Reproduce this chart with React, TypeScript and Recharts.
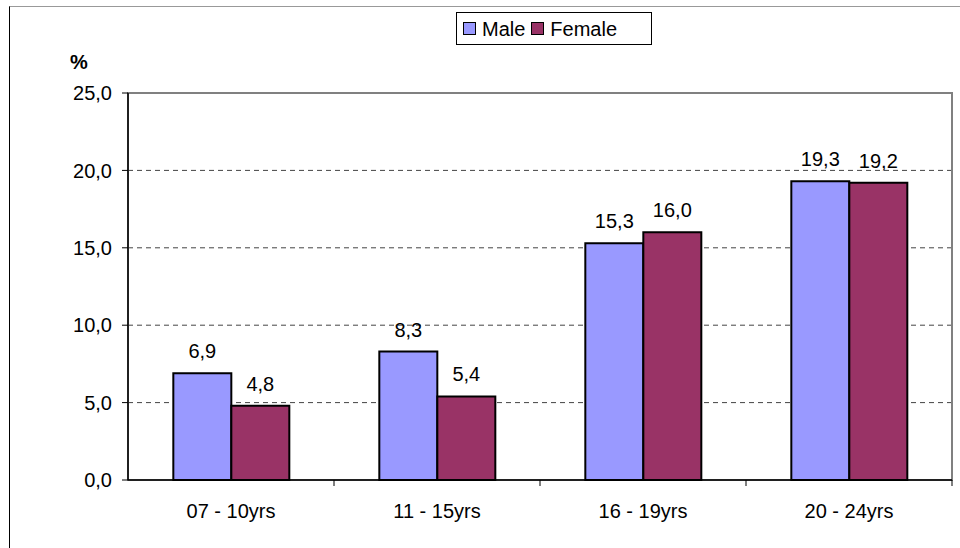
import React from "react";
import {
  BarChart, Bar, XAxis, YAxis, CartesianGrid, LabelList, ReferenceArea,
} from "recharts";

const AGE_GROUPS = ["07 - 10yrs", "11 - 15yrs", "16 - 19yrs", "20 - 24yrs"];
const MALE = [6.9, 8.3, 15.3, 19.3];
const FEMALE = [4.8, 5.4, 16.0, 19.2];
const Y_TICKS = [0, 5, 10, 15, 20, 25];

const MALE_COLOR = "#9999FF";
const FEMALE_COLOR = "#993366";
const FONT = "'Liberation Sans', Arial, sans-serif";

const W = 960;
const H = 548;
const PLOT_LEFT = 128;
const PLOT_RIGHT = 952;
const HALF_BAND = (PLOT_RIGHT - PLOT_LEFT) / AGE_GROUPS.length / 2;

const data = AGE_GROUPS.map((name, i) => ({ name, male: MALE[i], female: FEMALE[i] }));

const fmt = (v: number) => v.toFixed(1).replace(".", ",");

function CategoryTick(props: any) {
  const { x, y, payload } = props;
  return (
    <g>
      <line x1={x + HALF_BAND} x2={x + HALF_BAND} y1={y} y2={y + 6} stroke="#000" strokeWidth={1} />
      <text x={x} y={y + 38} textAnchor="middle" fontSize={20} fontFamily={FONT} fill="#000">
        {payload.value}
      </text>
    </g>
  );
}

function LegendBox() {
  const item = (color: string, label: string) => (
    <span style={{ display: "inline-flex", alignItems: "center", marginRight: 6 }}>
      <span
        style={{
          width: 11, height: 11, background: color, border: "1px solid #000",
          display: "inline-block", marginRight: 6,
        }}
      />
      {label}
    </span>
  );
  return (
    <div
      style={{
        position: "absolute", left: 456, top: 12, width: 188, height: 31,
        border: "1px solid #000", background: "#fff", fontFamily: FONT, fontSize: 20,
        display: "flex", alignItems: "center", paddingLeft: 6, boxSizing: "content-box",
        lineHeight: "20px",
      }}
    >
      {item(MALE_COLOR, "Male")}
      {item(FEMALE_COLOR, "Female")}
    </div>
  );
}

export default function App() {
  return (
    <div style={{ position: "absolute", left: 0, top: 0, width: W, height: H, overflow: "hidden", background: "#fff" }}>
      <div
        style={{
          position: "absolute", left: 9, top: 6, width: 1000, height: 600,
          borderLeft: "1px solid #000", borderTop: "1px solid #999",
        }}
      />
      <div
        style={{
          position: "absolute", left: 70, top: 50, fontFamily: FONT, fontSize: 20,
          fontWeight: "bold", lineHeight: "24px",
        }}
      >
        %
      </div>
      <LegendBox />
      <div style={{ position: "absolute", left: 0, top: 0 }}>
        <BarChart
          width={W}
          height={H}
          data={data}
          margin={{ top: 93, right: W - PLOT_RIGHT, left: 0, bottom: 8 }}
          barCategoryGap="22%"
          barGap={0}
        >
          <ReferenceArea y1={0} y2={25} fill="none" stroke="#808080" strokeWidth={2} ifOverflow="visible" />
          <CartesianGrid vertical={false} stroke="#444" strokeDasharray="5 4" />
          <XAxis
            dataKey="name"
            height={60}
            axisLine={{ stroke: "#000", strokeWidth: 1.5 }}
            tickLine={false}
            tickSize={0}
            tickMargin={0}
            tick={<CategoryTick />}
            interval={0}
          />
          <YAxis
            width={PLOT_LEFT}
            domain={[0, 25]}
            ticks={Y_TICKS}
            tickFormatter={fmt}
            axisLine={{ stroke: "#000", strokeWidth: 1.5 }}
            tickLine={{ stroke: "#000" }}
            tickSize={6}
            tickMargin={10}
            tick={{ fill: "#000", fontSize: 20, fontFamily: FONT }}
          />
          <Bar dataKey="male" fill={MALE_COLOR} stroke="#000" strokeWidth={2} isAnimationActive={false}>
            <LabelList dataKey="male" position="top" offset={15} formatter={(v: any) => fmt(Number(v))}
              fill="#000" fontSize={20} fontFamily={FONT} />
          </Bar>
          <Bar dataKey="female" fill={FEMALE_COLOR} stroke="#000" strokeWidth={2} isAnimationActive={false}>
            <LabelList dataKey="female" position="top" offset={15} formatter={(v: any) => fmt(Number(v))}
              fill="#000" fontSize={20} fontFamily={FONT} />
          </Bar>
        </BarChart>
      </div>
    </div>
  );
}
